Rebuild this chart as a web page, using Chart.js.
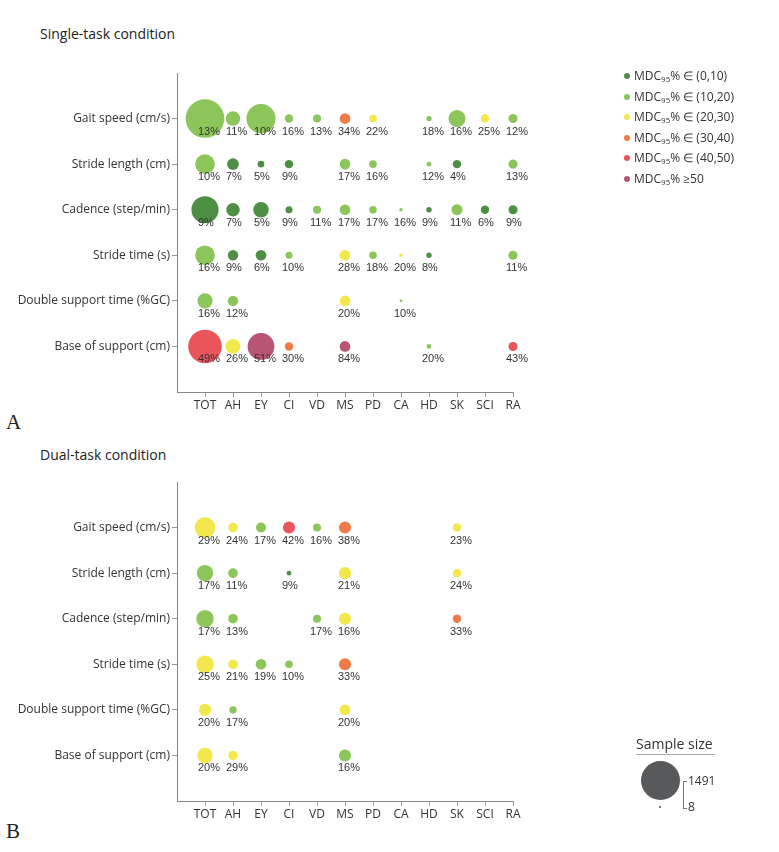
<!DOCTYPE html>
<html lang="en">
<head>
<meta charset="utf-8"/>
<title>MDC95% by population</title>
<script src="https://cdn.jsdelivr.net/npm/chart.js"></script>
<style>
  body { margin: 0; background: #fff; font-family: 'Open Sans', sans-serif; color: #333; }
  #page { position: relative; width: 779px; height: 852px; }
  canvas { position: absolute; left: 0; }
  .title { position: absolute; left: 40px; font-size: 14px; color: #222; }
  .panel { position: absolute; left: 6px; font-family: 'Liberation Serif', serif; font-size: 21px; color: #222; }
  .leg { position: absolute; left: 624px; font-size: 12px; line-height: 16px; white-space: nowrap; }
  .leg i { display: inline-block; width: 6px; height: 6px; border-radius: 50%; margin-right: 4px; vertical-align: 1px; }
  .leg sub { font-size: 8px; vertical-align: -2px; line-height: 0; }
</style>
</head>
<body>
<div id="page">
  <div class="title" style="top:24px;">Single-task condition</div>
  <div class="title" style="top:445px;">Dual-task condition</div>
  <div class="panel" style="top:410px;">A</div>
  <div class="panel" style="top:819px;">B</div>
  <canvas id="single" width="779" height="420" style="top:0;"></canvas>
  <canvas id="dual" width="779" height="400" style="top:430px;"></canvas>
  <div id="legend"></div>

  <!-- sample size key -->
  <div style="position:absolute; left:636px; top:735px; width:79px; font-size:14px; color:#333; border-bottom:1.5px solid #aaa; line-height:18px; padding-bottom:1px;">Sample size</div>
  <div style="position:absolute; left:641px; top:761px; width:39px; height:39px; border-radius:50%; background:#58595b;"></div>
  <div style="position:absolute; left:659px; top:806px; width:2px; height:2px; border-radius:50%; background:#58595b;"></div>
  <div style="position:absolute; left:683px; top:781px; width:3px; height:26px; border:1px solid #777; border-right:none;"></div>
  <div style="position:absolute; left:688px; top:772px; font-size:12px;">1491</div>
  <div style="position:absolute; left:688px; top:798px; font-size:12px;">8</div>
</div>
<script>
const cats = ['TOT', 'AH', 'EY', 'CI', 'VD', 'MS', 'PD', 'CA', 'HD', 'SK', 'SCI', 'RA'];
const params = ['Gait speed (cm/s)', 'Stride length (cm)', 'Cadence (step/min)',
  'Stride time (s)', 'Double support time (%GC)', 'Base of support (cm)'];
const binColors = ['#4e8f45', '#8cc65a', '#f2e84b', '#f07a45', '#e9555a', '#b85573'];
const binLabels = ['∈ (0,10)', '∈ (10,20)', '∈ (20,30)', '∈ (30,40)', '∈ (40,50)', '≥50'];
const maxN = 1491;

// single-task: MDC95% per parameter (rows) and population (columns)
const singlePct = [
  [13, 11, 10, 16, 13, 34, 22, null, 18, 16, 25, 12],
  [10, 7, 5, 9, null, 17, 16, null, 12, 4, null, 13],
  [9, 7, 5, 9, 11, 17, 17, 16, 9, 11, 6, 9],
  [16, 9, 6, 10, null, 28, 18, 20, 8, null, null, 11],
  [16, 12, null, null, null, 20, null, 10, null, null, null, null],
  [49, 26, 51, 30, null, 84, null, null, 20, null, null, 43]
];
const singleN = [
  [1491, 210, 850, 71, 65, 114, 58, null, 29, 292, 71, 82],
  [388, 136, 44, 71, null, 114, 58, null, 22, 71, null, 82],
  [737, 181, 239, 50, 65, 114, 58, 12, 29, 122, 71, 82],
  [388, 109, 114, 50, null, 114, 58, 12, 29, null, null, 82],
  [228, 109, null, null, null, 114, null, 8, null, null, null, null],
  [1128, 216, 716, 71, null, 114, null, null, 22, null, null, 82]
];
const singleBin = [
  [1, 1, 1, 1, 1, 3, 2, null, 1, 1, 2, 1],
  [1, 0, 0, 0, null, 1, 1, null, 1, 0, null, 1],
  [0, 0, 0, 0, 1, 1, 1, 1, 0, 1, 0, 0],
  [1, 0, 0, 1, null, 2, 1, 2, 0, null, null, 1],
  [1, 1, null, null, null, 2, null, 1, null, null, null, null],
  [4, 2, 5, 3, null, 5, null, null, 1, null, null, 4]
];

// dual-task
const dualPct = [
  [29, 24, 17, 42, 16, 38, null, null, null, 23, null, null],
  [17, 11, null, 9, null, 21, null, null, null, 24, null, null],
  [17, 13, null, null, 17, 16, null, null, null, 33, null, null],
  [25, 21, 19, 10, null, 33, null, null, null, null, null, null],
  [20, 17, null, null, null, 20, null, null, null, null, null, null],
  [20, 29, null, null, null, 16, null, null, null, null, null, null]
];
const dualN = [
  [429, 89, 101, 146, 65, 146, null, null, null, 71, null, null],
  [270, 93, null, 22, null, 146, null, null, null, 71, null, null],
  [306, 93, null, null, 65, 146, null, null, null, 71, null, null],
  [306, 93, 114, 58, null, 146, null, null, null, null, null, null],
  [146, 55, null, null, null, 114, null, null, null, null, null, null],
  [239, 89, null, null, null, 146, null, null, null, null, null, null]
];
const dualBin = [
  [2, 2, 1, 4, 1, 3, null, null, null, 2, null, null],
  [1, 1, null, 0, null, 2, null, null, null, 2, null, null],
  [1, 1, null, null, 1, 2, null, null, null, 3, null, null],
  [2, 2, 1, 1, null, 3, null, null, null, null, null, null],
  [2, 1, null, null, null, 2, null, null, null, null, null, null],
  [2, 2, null, null, null, 1, null, null, null, null, null, null]
];

// legend on the right
const legEl = document.getElementById('legend');
binLabels.forEach(function (lab, i) {
  const d = document.createElement('div');
  d.className = 'leg';
  d.style.top = (68 + i * 20.5) + 'px';
  d.innerHTML = '<i style="background:' + binColors[i] + '"></i>MDC<sub>95</sub>% ' + lab;
  legEl.appendChild(d);
});

function radius(n) {
  return 19.3 * Math.sqrt(n / maxN);
}

function buildPoints(pct, ns, bins) {
  const pts = [], cols = [];
  pct.forEach(function (row, r) {
    row.forEach(function (p, c) {
      if (p === null) return;
      pts.push({ x: c + 1, y: r + 1, r: radius(ns[r][c]), p: p });
      cols.push(binColors[bins[r][c]]);
    });
  });
  return { pts: pts, cols: cols };
}

// percent labels under each bubble
const pctLabels = {
  id: 'pctLabels',
  afterDatasetsDraw(chart) {
    const ctx = chart.ctx;
    ctx.save();
    ctx.font = '11px "Liberation Sans", Arial, sans-serif';
    ctx.fillStyle = '#333';
    ctx.textAlign = 'left';
    ctx.textBaseline = 'middle';
    chart.data.datasets.forEach(function (ds, di) {
      chart.getDatasetMeta(di).data.forEach(function (el, i) {
        ctx.fillText(ds.data[i].p + '%', el.x - 7, el.y + 13);
      });
    });
    ctx.restore();
  }
};

function makeChart(id, pct, ns, bins, padTop, axisH) {
  const b = buildPoints(pct, ns, bins);
  return new Chart(document.getElementById(id), {
    type: 'bubble',
    data: {
      datasets: [{
        data: b.pts,
        backgroundColor: b.cols,
        borderWidth: 0,
        hoverBorderWidth: 0,
        clip: false
      }]
    },
    options: {
      responsive: false,
      animation: false,
      layout: { padding: { top: padTop, right: 266, left: 0, bottom: 0 } },
      plugins: { legend: { display: false }, tooltip: { enabled: false } },
      scales: {
        x: {
          type: 'linear', min: 0, max: 12,
          afterBuildTicks: function (s) { s.ticks = cats.map(function (c, i) { return { value: i + 1 }; }); },
          afterFit: function (s) { s.height = axisH; },
          ticks: {
            autoSkip: false, maxRotation: 0, padding: 1, color: '#333',
            font: { family: 'Open Sans', size: 12 },
            callback: function (v) { return cats[v - 1]; }
          },
          grid: { drawOnChartArea: false, tickLength: 5, color: '#999' },
          border: { color: '#888' }
        },
        y: {
          type: 'linear', min: 0, max: 7, reverse: true,
          afterBuildTicks: function (s) { s.ticks = params.map(function (p, i) { return { value: i + 1 }; }); },
          afterFit: function (s) { s.width = 177; },
          ticks: {
            autoSkip: false, padding: 2, color: '#333',
            font: { family: 'Open Sans', size: 12 },
            callback: function (v) { return params[v - 1]; }
          },
          grid: { drawOnChartArea: false, tickLength: 5, color: '#999' },
          border: { color: '#888' }
        }
      }
    },
    plugins: [pctLabels]
  });
}

makeChart('single', singlePct, singleN, singleBin, 73, 28);
makeChart('dual', dualPct, dualN, dualBin, 52, 29);
</script>
</body>
</html>
